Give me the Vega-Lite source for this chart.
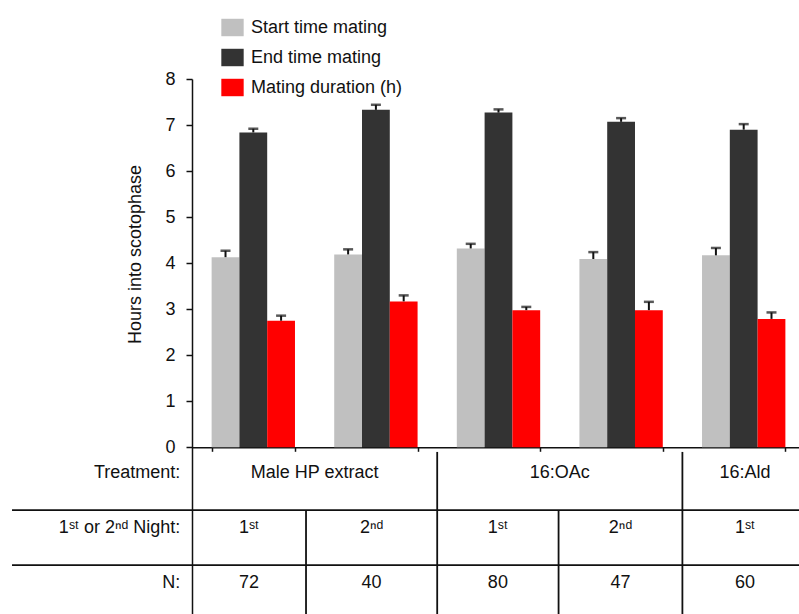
{
  "$schema": "https://vega.github.io/schema/vega-lite/v6.json",
  "width": 607,
  "height": 535,
  "autosize": {"type": "none"},
  "padding": {"left": 192, "top": 79, "right": 0, "bottom": 0},
  "background": "white",
  "config": {
    "view": {"stroke": null},
    "font": "Liberation Sans",
    "text": {"font": "Liberation Sans", "fontSize": 18, "color": "#111111"}
  },
  "datasets": {
    "bars": [
      {"group": "MHP 1st", "series": "Start time mating", "value": 4.13, "hi": 4.27},
      {"group": "MHP 1st", "series": "End time mating", "value": 6.84, "hi": 6.92},
      {"group": "MHP 1st", "series": "Mating duration (h)", "value": 2.75, "hi": 2.86},
      {"group": "MHP 2nd", "series": "Start time mating", "value": 4.19, "hi": 4.3},
      {"group": "MHP 2nd", "series": "End time mating", "value": 7.33, "hi": 7.44},
      {"group": "MHP 2nd", "series": "Mating duration (h)", "value": 3.17, "hi": 3.3},
      {"group": "OAc 1st", "series": "Start time mating", "value": 4.32, "hi": 4.42},
      {"group": "OAc 1st", "series": "End time mating", "value": 7.27, "hi": 7.34},
      {"group": "OAc 1st", "series": "Mating duration (h)", "value": 2.98, "hi": 3.05},
      {"group": "OAc 2nd", "series": "Start time mating", "value": 4.09, "hi": 4.24},
      {"group": "OAc 2nd", "series": "End time mating", "value": 7.07, "hi": 7.15},
      {"group": "OAc 2nd", "series": "Mating duration (h)", "value": 2.98, "hi": 3.16},
      {"group": "Ald 1st", "series": "Start time mating", "value": 4.17, "hi": 4.33},
      {"group": "Ald 1st", "series": "End time mating", "value": 6.9, "hi": 7.02},
      {"group": "Ald 1st", "series": "Mating duration (h)", "value": 2.79, "hi": 2.93}
    ],
    "cells": [
      {"text": "Male HP extract", "tx": 1.0, "ty": -0.565},
      {"text": "16:OAc", "tx": 3.0, "ty": -0.565},
      {"text": "16:Ald", "tx": 4.51, "ty": -0.565},
      {"text": "1ˢᵗ", "tx": 0.465, "ty": -1.76},
      {"text": "2ⁿᵈ", "tx": 1.465, "ty": -1.76},
      {"text": "1ˢᵗ", "tx": 2.495, "ty": -1.76},
      {"text": "2ⁿᵈ", "tx": 3.495, "ty": -1.76},
      {"text": "1ˢᵗ", "tx": 4.51, "ty": -1.76},
      {"text": "72", "tx": 0.465, "ty": -2.954},
      {"text": "40", "tx": 1.465, "ty": -2.954},
      {"text": "80", "tx": 2.495, "ty": -2.954},
      {"text": "47", "tx": 3.495, "ty": -2.954},
      {"text": "60", "tx": 4.51, "ty": -2.954}
    ],
    "rowLabels": [
      {"text": "Treatment:", "tx": -0.095, "ty": -0.565},
      {"text": "1ˢᵗ or 2ⁿᵈ Night:", "tx": -0.095, "ty": -1.76},
      {"text": "N:", "tx": -0.095, "ty": -2.954}
    ],
    "lines": [
      {"x": -1.468, "x2": 5, "y": -1.362, "y2": -1.362},
      {"x": -1.468, "x2": 5, "y": -2.557, "y2": -2.557},
      {"x": 0.93, "x2": 0.93, "y": -1.362, "y2": -3.62},
      {"x": 2.0, "x2": 2.0, "y": -0.1, "y2": -3.62},
      {"x": 2.99, "x2": 2.99, "y": -1.362, "y2": -3.62},
      {"x": 4.0, "x2": 4.0, "y": -0.1, "y2": -3.62}
    ]
  },
  "layer": [
    {
      "data": {"name": "bars"},
      "encoding": {
        "x": {
          "field": "group", "type": "nominal",
          "sort": ["MHP 1st", "MHP 2nd", "OAc 1st", "OAc 2nd", "Ald 1st"],
          "scale": {"range": [0, 613], "paddingInner": 0.32, "paddingOuter": 0.16},
          "axis": {
            "title": null, "labels": false, "ticks": true, "tickSize": 4,
            "tickBand": "extent", "tickColor": "#111111", "tickWidth": 1.5,
            "domain": true, "domainColor": "#111111", "domainWidth": 1.5,
            "offset": -166.7, "grid": false
          }
        },
        "xOffset": {
          "field": "series", "type": "nominal",
          "sort": ["Start time mating", "End time mating", "Mating duration (h)"],
          "scale": {"paddingInner": 0, "paddingOuter": 0}
        }
      },
      "layer": [
        {
          "mark": {"type": "bar", "clip": false},
          "encoding": {
            "y": {
              "field": "value", "type": "quantitative",
              "scale": {"domain": [-3.62, 8], "nice": false, "zero": false},
              "title": "Hours into scotophase",
              "axis": {
                "values": [0, 1, 2, 3, 4, 5, 6, 7, 8], "grid": false,
                "labelFontSize": 18, "labelFont": "Liberation Sans", "labelColor": "#111111",
                "labelPadding": 11, "tickSize": 6, "tickColor": "#111111", "tickWidth": 1.5,
                "domainColor": "#111111", "domainWidth": 1.5,
                "titleFontSize": 18, "titleFont": "Liberation Sans", "titleFontWeight": "normal",
                "titleColor": "#111111", "titleX": -57, "titleY": 175,
                "titleAlign": "center", "titleBaseline": "middle"
              }
            },
            "color": {
              "field": "series", "type": "nominal",
              "sort": ["Start time mating", "End time mating", "Mating duration (h)"],
              "scale": {
                "domain": ["Start time mating", "End time mating", "Mating duration (h)"],
                "range": ["#c0c0c0", "#333333", "#ff0000"]
              },
              "legend": {
                "title": null, "orient": "none", "legendX": 29, "legendY": -63,
                "symbolType": "M-1,-0.78H1V0.78H-1Z", "symbolSize": 500,
                "symbolStrokeWidth": 0, "symbolOpacity": 1,
                "labelFontSize": 18, "labelFont": "Liberation Sans", "labelColor": "#111111",
                "labelOffset": 7, "rowPadding": 9
              }
            }
          }
        },
        {
          "mark": {"type": "rule", "color": "#111111", "strokeWidth": 2, "clip": false},
          "encoding": {
            "y": {"field": "value", "type": "quantitative", "title": "Hours into scotophase"},
            "y2": {"field": "hi"}
          }
        },
        {
          "mark": {"type": "tick", "orient": "horizontal", "color": "#111111", "size": 10, "thickness": 2.5, "clip": false},
          "encoding": {
            "y": {"field": "hi", "type": "quantitative", "title": "Hours into scotophase"}
          }
        }
      ]
    },
    {
      "encoding": {
        "x": {"type": "quantitative", "scale": {"domain": [0, 5], "range": [0, 613], "nice": false, "zero": false}, "axis": null}
      },
      "layer": [
        {
          "data": {"name": "lines"},
          "mark": {"type": "rule", "color": "#111111", "strokeWidth": 1.8, "clip": false},
          "encoding": {
            "x": {"field": "x", "type": "quantitative", "scale": {"domain": [0, 5], "range": [0, 613], "nice": false, "zero": false}, "axis": null},
            "x2": {"field": "x2"},
            "y": {"field": "y", "type": "quantitative", "title": "Hours into scotophase"},
            "y2": {"field": "y2"}
          }
        },
        {
          "data": {"name": "cells"},
          "mark": {"type": "text", "align": "center", "baseline": "middle", "clip": false},
          "encoding": {
            "x": {"field": "tx", "type": "quantitative", "scale": {"domain": [0, 5], "range": [0, 613], "nice": false, "zero": false}, "axis": null},
            "y": {"field": "ty", "type": "quantitative", "title": "Hours into scotophase"},
            "text": {"field": "text"}
          }
        },
        {
          "data": {"name": "rowLabels"},
          "mark": {"type": "text", "align": "right", "baseline": "middle", "clip": false},
          "encoding": {
            "x": {"field": "tx", "type": "quantitative", "scale": {"domain": [0, 5], "range": [0, 613], "nice": false, "zero": false}, "axis": null},
            "y": {"field": "ty", "type": "quantitative", "title": "Hours into scotophase"},
            "text": {"field": "text"}
          }
        }
      ]
    }
  ],
  "resolve": {"scale": {"x": "independent"}}
}
